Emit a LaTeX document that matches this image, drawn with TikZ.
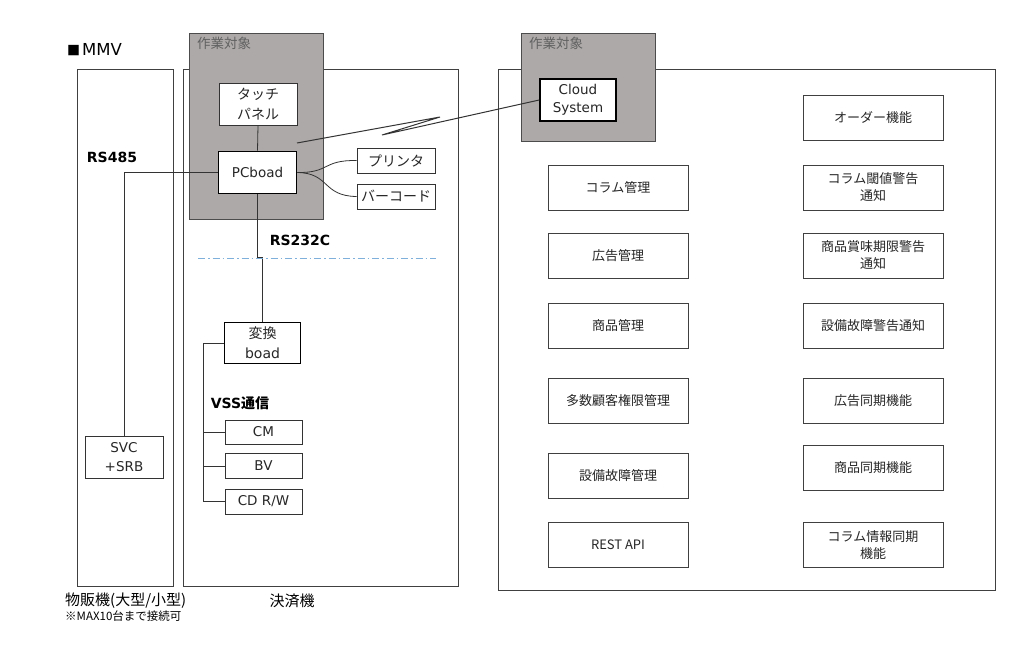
\documentclass[tikz,border=0pt]{standalone}
\usepackage{fontspec}
\setmainfont{Noto Sans CJK JP}
\newfontfamily\lat{DejaVu Sans}
\begin{document}
\begin{tikzpicture}[x=1pt,y=-1pt,
  frame/.style={draw=black!75,line width=0.8pt},
  work/.style={draw=black!70,fill=graybox,line width=0.9pt},
  box/.style={draw=black!80,fill=white,line width=0.8pt,align=center,inner sep=0pt,text=black!85,font=\fontsize{14}{20}\selectfont},
  lbox/.style={box,font=\lat\fontsize{13.5}{19}\selectfont},
  tbox/.style={draw=black,fill=white,line width=1.6pt,align=center,inner sep=0pt,text=black!85,font=\lat\fontsize{13.5}{18.5}\selectfont},
  fbox/.style={draw=black!75,fill=white,line width=0.7pt,align=center,inner sep=0pt,text=black!85,font=\fontsize{13}{17}\selectfont,minimum width=140pt,minimum height=45pt},
  wire/.style={draw=black!80,line width=0.8pt},
  blab/.style={font=\lat\bfseries\fontsize{14}{15}\selectfont,inner sep=0pt},
  wlab/.style={font=\fontsize{13.5}{14}\selectfont,text=black!62,inner sep=0pt,anchor=north west}
]
\definecolor{graybox}{HTML}{ADA9A8}
\definecolor{dashblue}{HTML}{7FB0DC}
\useasboundingbox (0,0) rectangle (1024,654);
% outer frames
\draw[frame] (77,69) rectangle (173,586);
\draw[frame] (183,69) rectangle (458,586);
\draw[frame] (498,69) rectangle (995,590);
% work areas
\draw[work] (189,33) rectangle (323,219);
\draw[work] (521,33) rectangle (655,141);
\node[wlab] (w1) at (197,37) {作業対象};
\node[wlab] (w2) at (529,37) {作業対象};
% title
\node[anchor=west,inner sep=0pt,font=\fontsize{13}{17}\selectfont] (title) at (67,50) {■\kern2pt{\lat\fontsize{16.5}{17}\selectfont MMV}};
% nodes left
\node[box,minimum width=78pt,minimum height=42pt] (tp) at (258,104) {タッチ\\パネル};
\node[tbox,minimum width=78pt,minimum height=42pt] (pc) at (257.5,172.5) {PCboad};
\node[box,minimum width=78pt,minimum height=25pt] (prn) at (396,160.5) {プリンタ};
\node[box,minimum width=78pt,minimum height=25pt] (bar) at (396,196.5) {バーコード};
\node[tbox,minimum width=76pt,minimum height=42pt] (cloud) at (578,100) {Cloud\\System};
\node[lbox,minimum width=78pt,minimum height=42pt] (svc) at (124,457) {SVC\\+SRB};
\node[tbox,minimum width=76pt,minimum height=41pt,font=\fontsize{14}{20}\selectfont] (conv) at (262.5,343) {変換\\{\lat boad}};
\node[lbox,minimum width=77pt,minimum height=24pt] (cm) at (263.5,432) {CM};
\node[lbox,minimum width=77pt,minimum height=25pt] (bv) at (263.5,466) {BV};
\node[lbox,minimum width=77pt,minimum height=25pt] (cd) at (263.5,501.5) {CD R/W};
% labels
\node[blab] (rs485) at (112,157) {RS485};
\node[blab] (rs232) at (300,240) {RS232C};
\node[blab] (vss) at (240,403) {VSS{\fontspec{Noto Sans CJK JP}\bfseries 通信}};
\node[anchor=west,inner sep=0pt,font=\fontsize{15}{16}\selectfont] (l1) at (65,601) {物販機(大型/小型)};
\node[anchor=west,inner sep=0pt,font=\fontsize{11.5}{12}\selectfont] (l2) at (65,616) {※MAX10台まで接続可};
\node[inner sep=0pt,font=\fontsize{15}{16}\selectfont] (l3) at (292,601) {決済機};
% connectors
\draw[wire] (tp.south) -- (pc.north);
\draw[wire] (pc.east) .. controls (330,173) and (322,160) .. (prn.west);
\draw[wire] (pc.east) .. controls (330,173) and (322,196) .. (bar.west);
\coordinate (z1) at (297,143);
\coordinate (z2) at (440,117);
\coordinate (z3) at (382,135);
\draw[wire,line width=1pt] (z1) -- (z2) -- (z3) -- (cloud.west);
\draw[wire] (pc.west) -- (124,172.5) -- (svc.north);
\coordinate (j1) at (257.5,257);
\coordinate (j2) at (262.5,257);
\draw[wire] (pc.south) -- (j1) -- (j2) -- (conv.north);
\draw[dashblue,line width=1pt,dash pattern=on 7pt off 3pt on 1.5pt off 3pt] (198,258) -- (436,258);
\draw[wire] (conv.west) -- (203.5,343) -- (203.5,432) -- (cm.west);
\draw[wire] (203.5,432) -- (203.5,501.5) -- (cd.west);
\draw[wire] (203.5,466) -- (bv.west);
% function boxes
\node[fbox] (f1) at (618,187.5) {コラム管理};
\node[fbox] (f2) at (618,255.5) {広告管理};
\node[fbox] (f3) at (618,325.5) {商品管理};
\node[fbox] (f4) at (618,400.5) {多数顧客権限管理};
\node[fbox] (f5) at (618,476) {設備故障管理};
\node[fbox] (f6) at (618,545) {REST API};
\node[fbox] (g1) at (873,118) {オーダー機能};
\node[fbox] (g2) at (873,187.5) {コラム閾値警告\\通知};
\node[fbox] (g3) at (873,255.5) {商品賞味期限警告\\通知};
\node[fbox] (g4) at (873,325.5) {設備故障警告通知};
\node[fbox] (g5) at (873,400.5) {広告同期機能};
\node[fbox] (g6) at (873,467.5) {商品同期機能};
\node[fbox] (g7) at (873,545) {コラム情報同期\\機能};
\end{tikzpicture}
\end{document}
